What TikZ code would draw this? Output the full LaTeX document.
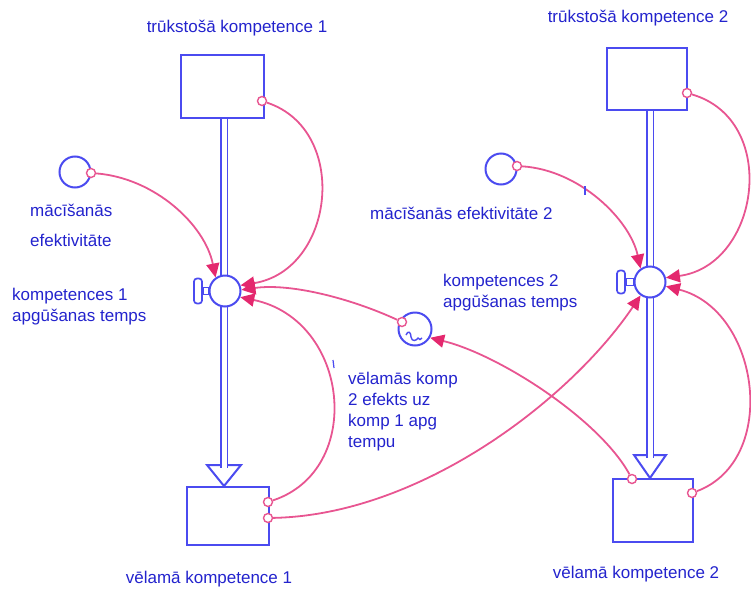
\documentclass[tikz,border=0pt]{standalone}
\usepackage{fontspec}
\setmainfont{Liberation Sans}
\usetikzlibrary{arrows.meta,calc}
\definecolor{shapeblue}{RGB}{75,75,240}
\definecolor{textblue}{RGB}{35,35,205}
\definecolor{linkpink}{RGB}{232,85,145}
\definecolor{headpink}{RGB}{228,40,110}
\begin{document}
\begin{tikzpicture}[x=1pt,y=-1pt,
  stock/.style={draw=shapeblue,line width=2pt,fill=white,inner sep=0pt},
  valve/.style={circle,draw=shapeblue,line width=2pt,fill=white,minimum size=31pt,inner sep=0pt},
  conv/.style={circle,draw=shapeblue,line width=2pt,fill=white,minimum size=31pt,inner sep=0pt},
  handle/.style={draw=shapeblue,line width=1.7pt,fill=white,rounded corners=3pt,minimum width=8pt,inner sep=0pt},
  dot/.style={circle,draw=linkpink,fill=white,line width=1.4pt,minimum size=9pt,inner sep=0pt},
  link/.style={draw=linkpink,line width=1.8pt,-{Triangle[length=14pt,width=13pt,color=headpink]}},
  lbl/.style={text=textblue,font=\fontsize{17}{21}\selectfont,inner sep=0pt},
  pipe/.style={draw=shapeblue,line width=1.8pt,double=white,double distance=5pt},
  tip/.style={draw=shapeblue,line width=2pt,fill=white,line join=miter}]
\useasboundingbox (0,0) rectangle (751,589);

% ---- left flow ----
\coordinate (p1a) at (224,118);
\coordinate (p1b) at (224,468);
\draw[tip] (207,465) -- (241,465) -- (224,486) -- cycle;
\draw[pipe] (p1a) -- (p1b);
\node[stock,minimum width=83pt,minimum height=63pt] (s1) at (222.5,86.5) {};
\node[stock,minimum width=82pt,minimum height=58pt] (s1b) at (228,516) {};
\node[handle,minimum height=25pt] (h1) at (198,291) {};
\node[valve] (v1) at (225,291) {};
\draw[shapeblue,line width=1.4pt,fill=white] ($(h1.east)+(0,-3.5)$) rectangle ($(v1.west)+(0,3.5)$);

% ---- right flow ----
\coordinate (p2a) at (650,110);
\coordinate (p2b) at (650,458);
\draw[tip] (634,455) -- (666,455) -- (650,478) -- cycle;
\draw[pipe] (p2a) -- (p2b);
\node[stock,minimum width=80pt,minimum height=62pt] (s2) at (647,79) {};
\node[stock,minimum width=80pt,minimum height=63pt] (s2b) at (653,510.5) {};
\node[handle,minimum height=23pt] (h2) at (621,282) {};
\node[valve] (v2) at (650,282) {};
\draw[shapeblue,line width=1.4pt,fill=white] ($(h2.east)+(0,-3.5)$) rectangle ($(v2.west)+(0,3.5)$);

% ---- converters ----
\node[conv] (c1) at (75,172) {};
\node[conv] (c2) at (501,169) {};
\node[conv,minimum size=33pt] (g) at (415,329) {};
\draw[shapeblue,line width=1.4pt] (406,335) .. controls (408,330) and (411,332) .. (411,337)
  .. controls (412,342) and (416,341) .. (418,338) .. controls (419,340) and (421,340) .. (422,338);

% ---- connector dots ----
\node[dot] (d1) at (262,101) {};
\node[dot] (d2) at (91,173) {};
\node[dot] (d3) at (402,322) {};
\node[dot] (d4) at (268,502) {};
\node[dot] (d5) at (268,518) {};
\node[dot] (d6) at (687,93) {};
\node[dot] (d7) at (517,166) {};
\node[dot] (d8) at (632,479) {};
\node[dot] (d9) at (692,493) {};

% ---- connectors ----
\draw[link] (d2) .. controls (155,178) and (205,225) .. (v1.125);
\draw[link] (d1) .. controls (350,130) and (335,270) .. (v1.20);
\draw[link] (d3) .. controls (350,298) and (290,283) .. (v1.4);
\draw[link] (d4) .. controls (365,470) and (350,320) .. (v1.-22);
\draw[link] (d5) .. controls (420,515) and (570,400) .. (v2.-125);
\draw[link] (d8) .. controls (600,420) and (500,355) .. (g.-30);
\draw[link] (d7) .. controls (580,170) and (630,220) .. (v2.125);
\draw[link] (d6) .. controls (780,120) and (760,265) .. (v2.15);
\draw[link] (d9) .. controls (780,460) and (760,310) .. (v2.-15);

% small marks
\draw[shapeblue,line width=1.2pt] (333,360) -- (334,368);
\draw[shapeblue,line width=1.2pt] (585,186) -- (585,195);

% ---- labels ----
\node[lbl] (t1) at (237,28) {trūkstošā kompetence 1};
\node[lbl] (t2) at (638,18) {trūkstošā kompetence 2};
\node[lbl,anchor=west,align=left] (t3) at (30,225) {mācīšanās\\[9pt]efektivitāte};
\node[lbl,anchor=west,align=left] (t4) at (12,307) {kompetences 1\\apgūšanas temps};
\node[lbl,anchor=west] (t5) at (370,213) {mācīšanās efektivitāte 2};
\node[lbl,anchor=west,align=left] (t6) at (443,293) {kompetences 2\\apgūšanas temps};
\node[lbl,anchor=west,align=left] (t7) at (348,412) {vēlamās komp\\2 efekts uz\\komp 1 apg\\tempu};
\node[lbl] (t8) at (209,579) {vēlamā kompetence 1};
\node[lbl] (t9) at (636,574) {vēlamā kompetence 2};
\end{tikzpicture}
\end{document}
